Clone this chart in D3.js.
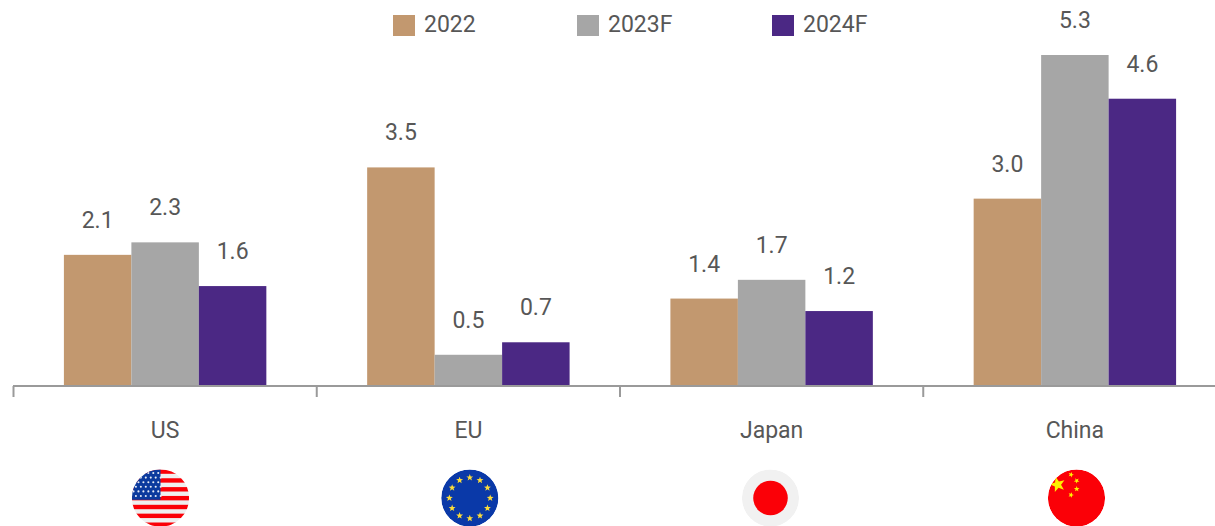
<!DOCTYPE html>
<html>
<head>
<meta charset="utf-8">
<script src="https://cdn.jsdelivr.net/npm/d3@7/dist/d3.min.js"></script>
<style>
  html, body { margin: 0; padding: 0; background: #fff; overflow: hidden; }
  svg { display: block; }
  text { font-family: Roboto, "Noto Sans", sans-serif; fill: #575757; font-weight: 400; }
</style>
</head>
<body>
<svg id="chart" width="1215" height="526"></svg>
<script>
// GDP growth by economy, per cent
const regions = ["US", "EU", "Japan", "China"];
const years = ["2022", "2023F", "2024F"];
const values2022 = [2.1, 3.5, 1.4, 3.0];
const values2023 = [2.3, 0.5, 1.7, 5.3];
const values2024 = [1.6, 0.7, 1.2, 4.6];
const yearColors = ["#c2986f", "#a6a6a6", "#4b2884"];

const seriesByYear = [values2022, values2023, values2024];
const svg = d3.select("#chart");
const baseY = 386;
const fontSize = "23px";

const x0 = d3.scaleBand().domain(regions).range([13.5, 1226.5]);
const x1 = d3.scaleBand().domain(years).range([0, x0.bandwidth()])
  .paddingInner(0).paddingOuter(0.747);
const y = d3.scaleLinear().domain([0, 5.3]).range([baseY, 55]);
const color = d3.scaleOrdinal().domain(years).range(yearColors);

const rows = regions.flatMap((region, i) =>
  years.map((year, j) => ({ region, year, value: seriesByYear[j][i] })));

// Bars
svg.append("g").selectAll("rect").data(rows).join("rect")
  .attr("x", d => x0(d.region) + x1(d.year))
  .attr("width", x1.bandwidth())
  .attr("y", d => y(d.value))
  .attr("height", d => y(0) - y(d.value))
  .attr("fill", d => color(d.year));

// Value labels above each bar
svg.append("g").selectAll("text").data(rows).join("text")
  .attr("x", d => x0(d.region) + x1(d.year) + x1.bandwidth() / 2)
  .attr("y", d => y(d.value) - 27)
  .attr("text-anchor", "middle")
  .style("font-size", fontSize)
  .text(d => d.value.toFixed(1));

// Category axis: baseline with ticks on the group boundaries
const axisColor = "#9a9a9a";
svg.append("line")
  .attr("x1", 13).attr("x2", 1226).attr("y1", baseY).attr("y2", baseY)
  .attr("stroke", axisColor).attr("stroke-width", 2);
svg.append("g").selectAll("line").data(regions).join("line")
  .attr("x1", d => x0(d)).attr("x2", d => x0(d))
  .attr("y1", baseY).attr("y2", baseY + 11)
  .attr("stroke", axisColor).attr("stroke-width", 2);
svg.append("g").selectAll("text").data(regions).join("text")
  .attr("x", d => x0(d) + x0.bandwidth() / 2)
  .attr("y", 437.5)
  .attr("text-anchor", "middle")
  .style("font-size", fontSize)
  .text(d => d);

// Legend
const legendSwatchX = [393, 577, 772];
const legend = svg.append("g").selectAll("g").data(years).join("g")
  .attr("transform", (d, i) => `translate(${legendSwatchX[i]},15)`);
legend.append("rect").attr("width", 22).attr("height", 21).attr("fill", d => color(d));
legend.append("text").attr("x", 31).attr("y", 17)
  .style("font-size", fontSize).text(d => d);

// Round flags under the categories
function starPath(r) {
  const pts = d3.range(10).map(i => {
    const a = -Math.PI / 2 + i * Math.PI / 5;
    const rr = i % 2 ? r * 0.42 : r;
    return [rr * Math.cos(a), rr * Math.sin(a)];
  });
  return d3.line()(pts) + "Z";
}
const flagR = 28.6, flagY = 498;
const defs = svg.append("defs");
function flag(id, cx) {
  defs.append("clipPath").attr("id", id).append("circle").attr("r", flagR);
  return svg.append("g").attr("transform", `translate(${cx},${flagY})`)
    .append("g").attr("clip-path", `url(#${id})`);
}

// US
const us = flag("clip-us", 160.5);
us.append("rect").attr("x", -flagR).attr("y", -flagR).attr("width", 2 * flagR).attr("height", 2 * flagR).attr("fill", "#efefef");
d3.range(7).forEach(i => {
  us.append("rect").attr("x", -flagR).attr("y", -flagR + i * 8.85).attr("width", 2 * flagR).attr("height", 4.4).attr("fill", "#fb0007");
});
us.append("rect").attr("x", -flagR).attr("y", -flagR).attr("width", flagR).attr("height", 30.4).attr("fill", "#0b3a9e");
d3.range(6).forEach(row => d3.range(6).forEach(col => {
  us.append("circle")
    .attr("cx", -26 + col * 4.95 + (row % 2 ? 2.4 : 0) - 1)
    .attr("cy", -25 + row * 4.6)
    .attr("r", 1.05).attr("fill", "#e8ecf6");
}));

// EU
const eu = flag("clip-eu", 469.8);
eu.append("circle").attr("r", flagR).attr("fill", "#0a39a8");
d3.range(12).forEach(i => {
  const a = i * Math.PI / 6;
  eu.append("path").attr("d", starPath(3.6))
    .attr("transform", `translate(${20.4 * Math.sin(a)},${-20.4 * Math.cos(a)})`)
    .attr("fill", "#fbdc3a");
});

// Japan
const jp = flag("clip-jp", 770.5);
jp.append("circle").attr("r", flagR).attr("fill", "#f1f1f1");
jp.append("circle").attr("r", 17.3).attr("fill", "#fb0007");

// China
const cn = flag("clip-cn", 1076.5);
cn.append("circle").attr("r", flagR).attr("fill", "#fb0007");
cn.append("path").attr("d", starPath(8)).attr("transform", "translate(-18.8,-13.4) rotate(-15)").attr("fill", "#fdf000");
[[-5.5, -23.3, 20], [0.2, -17.3, 40], [0.2, -9, 0], [-5.5, -3, 20]].forEach(([sx, sy, rot]) => {
  cn.append("path").attr("d", starPath(2.9)).attr("transform", `translate(${sx},${sy}) rotate(${rot})`).attr("fill", "#fdf000");
});
</script>
</body>
</html>
